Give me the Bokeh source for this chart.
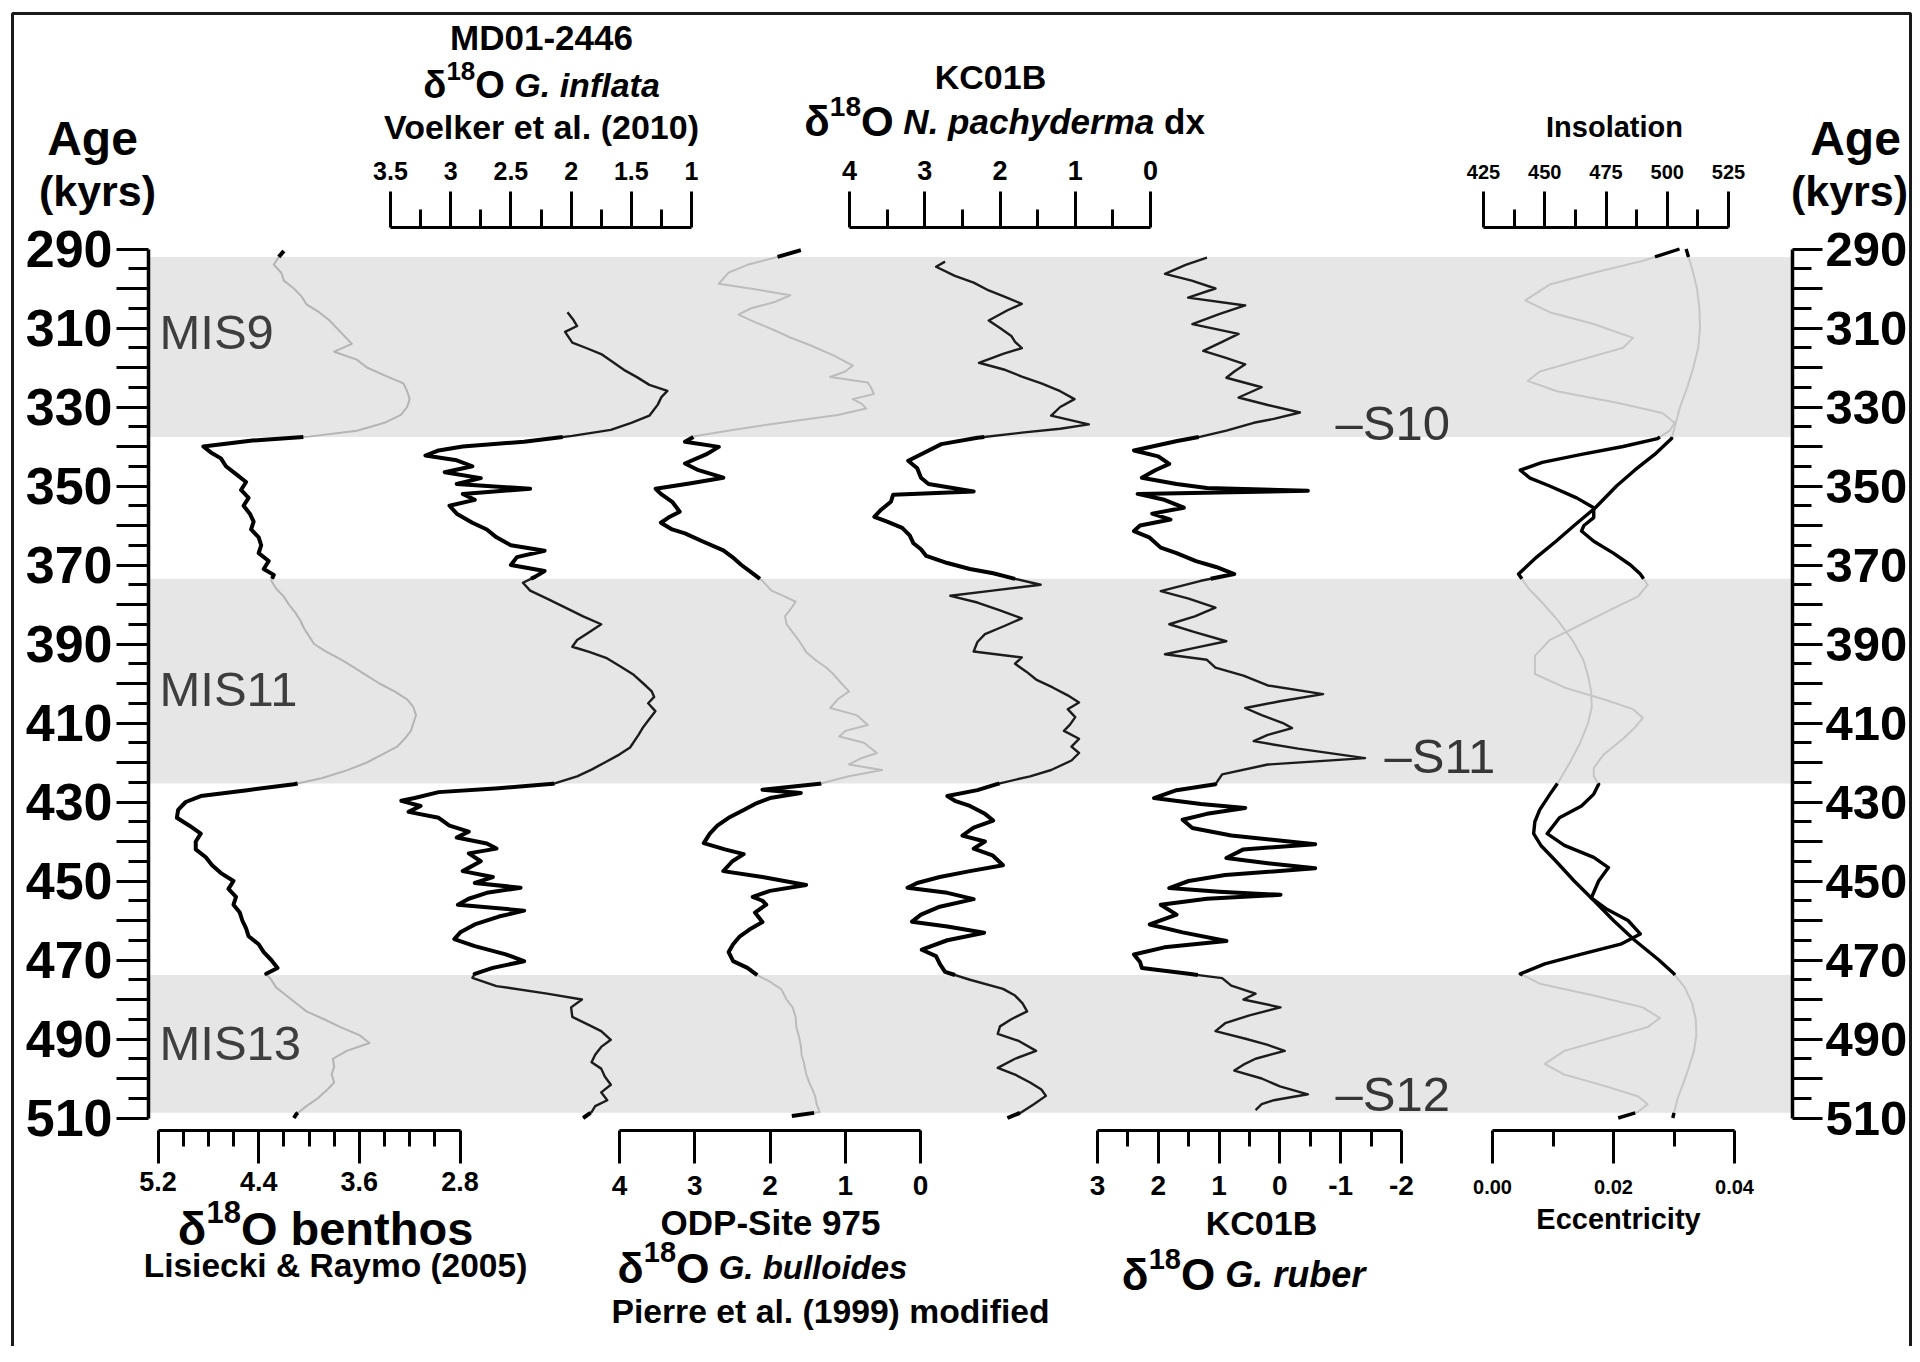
import numpy as np
from bokeh.plotting import figure
from bokeh.models import Range1d, LinearAxis, FixedTicker, Label, CustomJSTickFormatter
from bokeh.embed import file_html
from bokeh.resources import INLINE

# ---------------- data ----------------
mis_names = ["MIS9", "MIS11", "MIS13"]
mis_start = [292.0, 373.5, 473.8]
mis_end = [337.6, 425.3, 508.7]
mis_label_age = [311.0, 401.5, 491.0]

s_names = ["–S10", "–S11", "–S12"]
s_age = [334.0, 418.3, 504.0]

ben_age = [290.5, 292, 294, 296, 298, 300, 302, 304, 306, 308,
           310, 312, 314, 316, 318, 320, 322, 324, 326, 328,
           330, 332, 334, 336, 337.5, 338.5, 340, 341.5, 343, 345,
           347, 349, 351, 353, 355, 357, 359, 361, 363, 365,
           367, 369, 371, 372.5, 374, 376, 378, 380, 382, 384,
           386, 388, 390, 392, 394, 396, 398, 400, 402, 404,
           406, 408, 410, 412, 414, 416, 418, 420, 422, 424,
           425.5, 427, 428.5, 430, 432, 434, 436, 438, 440, 442,
           444, 446, 448, 450, 452, 454, 456, 458, 460, 462,
           464, 466, 468, 470, 472, 473.5, 475, 477, 479, 481,
           483, 485, 487, 489, 491, 493, 495, 497, 499, 501,
           503, 505, 507, 509, 510]
ben_val = [4.20, 4.24, 4.28, 4.22, 4.20, 4.12, 4.06, 4.02, 3.92, 3.84,
           3.78, 3.72, 3.66, 3.80, 3.62, 3.54, 3.40, 3.25, 3.22, 3.20,
           3.22, 3.27, 3.40, 3.62, 4.00, 4.45, 4.84, 4.78, 4.70, 4.66,
           4.58, 4.50, 4.54, 4.48, 4.52, 4.47, 4.44, 4.46, 4.40, 4.38,
           4.40, 4.32, 4.36, 4.28, 4.30, 4.26, 4.20, 4.16, 4.11, 4.07,
           4.04, 4.00, 3.96, 3.86, 3.74, 3.64, 3.54, 3.44, 3.32, 3.22,
           3.17, 3.15, 3.17, 3.19, 3.24, 3.30, 3.42, 3.54, 3.70, 3.90,
           4.12, 4.49, 4.86, 4.98, 5.04, 5.05, 4.95, 4.86, 4.90, 4.90,
           4.82, 4.77, 4.70, 4.60, 4.64, 4.58, 4.60, 4.55, 4.53, 4.50,
           4.48, 4.40, 4.36, 4.30, 4.25, 4.34, 4.30, 4.26, 4.18, 4.10,
           4.02, 3.88, 3.75, 3.60, 3.52, 3.70, 3.81, 3.80, 3.82, 3.80,
           3.86, 3.93, 4.02, 4.10, 4.12]

inf_age = [306, 308, 309.5, 311, 313.7, 315, 316.6, 318.5, 320.8, 322.5,
           324.4, 325.9, 327.5, 329.4, 331, 332.2, 334, 335.8, 337.3, 338.8,
           340, 341, 342.3, 343.5, 345, 346.5, 348, 349.5, 350.7, 352,
           353.5, 355, 357, 359.3, 361, 363, 365, 366.4, 368, 370,
           371.5, 373, 374.5, 376.5, 378.5, 380.6, 383, 385, 387, 389,
           390.7, 392, 393.5, 395.5, 397.8, 400, 402, 403.4, 405, 407,
           409, 411, 413, 416.2, 418, 420, 421.8, 423.5, 425.4, 426.5,
           427.5, 429, 429.7, 431, 432.5, 434, 436, 437.5, 439, 440.5,
           441.8, 443, 445, 447.5, 449, 450.5, 451.7, 453, 454.5, 456,
           457.5, 459, 461, 463, 464.7, 466.5, 468.5, 470.3, 472, 473.5,
           474.5, 476.6, 478.5, 480, 482, 484.4, 486.5, 488, 490.2, 492,
           494, 495.9, 497.5, 499.5, 501.6, 503.5, 505.5, 507, 508.5, 510]
inf_val = [2.03, 1.98, 1.95, 2.05, 1.99, 1.88, 1.75, 1.66, 1.55, 1.45,
           1.35, 1.20, 1.25, 1.28, 1.32, 1.35, 1.50, 1.67, 1.99, 2.39,
           2.90, 3.10, 3.21, 2.95, 2.82, 3.05, 2.75, 2.95, 2.34, 2.90,
           2.80, 3.01, 2.95, 2.82, 2.70, 2.62, 2.50, 2.22, 2.45, 2.50,
           2.22, 2.30, 2.40, 2.34, 2.20, 2.06, 1.90, 1.75, 1.85, 1.95,
           1.99, 1.85, 1.71, 1.60, 1.48, 1.40, 1.33, 1.31, 1.36, 1.30,
           1.35, 1.40, 1.44, 1.51, 1.60, 1.72, 1.83, 1.95, 2.15, 2.60,
           3.10, 3.30, 3.41, 3.25, 3.35, 3.10, 3.01, 2.85, 2.95, 2.70,
           2.62, 2.85, 2.75, 2.90, 2.65, 2.80, 2.42, 2.70, 2.85, 2.94,
           2.39, 2.60, 2.80, 2.92, 2.97, 2.80, 2.55, 2.39, 2.65, 2.80,
           2.82, 2.62, 2.20, 1.91, 2.00, 1.99, 1.85, 1.75, 1.67, 1.75,
           1.80, 1.83, 1.75, 1.72, 1.67, 1.75, 1.70, 1.80, 1.83, 1.90]

bul_age = [290.3, 292, 294, 296, 298.8, 300.2, 301.7, 303.5, 305, 306.6,
           308.5, 310.5, 312.4, 314.5, 317, 319.5, 321, 322.4, 323.1, 323.8,
           325, 326.7, 328, 329.2, 330.4, 332, 334, 335.8, 337.4, 338.8,
           340.1, 342, 344.3, 346, 347.9, 349.3, 350.7, 352, 354, 356.5,
           358, 359.3, 361, 362, 364, 366.3, 368, 370, 372.1, 374,
           376.5, 378, 379.3, 381, 383, 385, 387, 389, 392, 394,
           396, 397.8, 400, 402, 404, 406.2, 408, 410.5, 412, 413.4,
           415, 417.6, 419, 420.5, 421.9, 423.5, 425.4, 426.9, 427.7, 429,
           430.5, 432, 434, 436, 438, 440.4, 442, 443.2, 445, 447.5,
           449, 451, 452.5, 454, 455, 456, 458, 460.4, 462, 464,
           466, 468, 470.3, 472, 473.8, 475.5, 477.4, 480, 482, 484.4,
           487, 489, 491.7, 494, 496, 498.8, 501, 503, 504.5, 506.5,
           508.5, 509.5]
bul_val = [1.59, 1.90, 2.30, 2.55, 2.68, 2.20, 1.73, 1.95, 2.25, 2.42,
           2.20, 1.95, 1.73, 1.45, 1.15, 0.90, 1.00, 1.20, 0.95, 0.70,
           0.66, 0.62, 0.90, 0.78, 0.72, 1.10, 1.85, 2.50, 3.00, 3.13,
           2.68, 2.85, 3.13, 2.95, 2.62, 3.05, 3.52, 3.45, 3.30, 3.20,
           3.35, 3.45, 3.30, 3.13, 2.90, 2.62, 2.50, 2.38, 2.23, 2.10,
           1.98, 1.80, 1.66, 1.72, 1.80, 1.78, 1.70, 1.62, 1.52, 1.40,
           1.25, 1.15, 1.05, 0.95, 1.10, 1.20, 0.85, 0.70, 1.00, 1.08,
           0.75, 0.58, 0.80, 0.95, 0.51, 0.95, 1.34, 2.10, 1.59, 2.00,
           2.20, 2.35, 2.55, 2.70, 2.80, 2.88, 2.60, 2.35, 2.50, 2.62,
           2.10, 1.52, 2.00, 2.23, 2.10, 2.05, 2.20, 2.10, 2.25, 2.40,
           2.49, 2.55, 2.49, 2.30, 2.17, 2.00, 1.85, 1.78, 1.70, 1.66,
           1.65, 1.62, 1.59, 1.58, 1.55, 1.52, 1.48, 1.43, 1.40, 1.38,
           1.34, 1.71]

pac_age = [293.2, 294.5, 296.8, 298.5, 300.5, 302, 303.9, 305.5, 308.1, 310,
           312, 313.5, 315.1, 316.5, 318.8, 320.5, 322.3, 324, 326, 328,
           330, 332.2, 334.4, 335.5, 336.5, 337.8, 339.4, 341.5, 343.6, 345.5,
           347.9, 349.5, 351.4, 352.2, 354, 356, 357.8, 359, 360.6, 362.5,
           364.5, 366, 367.7, 369.5, 371, 372.1, 373.5, 375, 376.5, 377.8,
           379.5, 381.5, 383.5, 385.5, 387.5, 389.5, 391.9, 393.4, 395, 397,
           399, 401, 403, 404.8, 406.5, 408.5, 410.4, 412, 414, 416,
           417.6, 419.5, 421.9, 423.5, 425.4, 427, 428.5, 429.7, 431, 433,
           434.7, 436.5, 438.5, 440, 441.8, 443.5, 446, 447.5, 449, 450.5,
           451.7, 453, 454.6, 456.5, 458.5, 460.3, 461.5, 463.1, 465, 467.4,
           469, 471, 473, 475, 477.3, 479, 481, 483, 485, 486.8,
           488.7, 490.5, 493, 495, 497.3, 499, 501, 502.8, 504.4, 506.5,
           508.5, 510]
pac_val = [2.73, 2.85, 2.60, 2.35, 2.15, 1.95, 1.71, 1.90, 2.15, 2.00,
           1.85, 1.80, 1.71, 1.95, 2.28, 1.95, 1.71, 1.45, 1.20, 1.01,
           1.20, 1.32, 0.82, 1.20, 1.71, 2.30, 2.78, 3.00, 3.22, 3.10,
           3.05, 2.95, 2.35, 3.42, 3.45, 3.58, 3.67, 3.50, 3.30, 3.20,
           3.15, 3.05, 2.98, 2.70, 2.40, 2.09, 1.80, 1.46, 2.10, 2.66,
           2.30, 2.00, 1.71, 1.95, 2.20, 2.30, 2.35, 1.71, 1.80, 1.65,
           1.52, 1.30, 1.10, 0.95, 1.10, 1.00, 1.07, 1.15, 0.95, 1.05,
           0.95, 1.05, 1.32, 1.60, 2.03, 2.30, 2.70, 2.60, 2.40, 2.20,
           2.09, 2.35, 2.50, 2.20, 2.35, 2.10, 1.96, 2.40, 2.80, 3.10,
           3.23, 2.70, 2.35, 2.80, 3.05, 3.17, 2.70, 2.21, 2.70, 3.04,
           2.85, 2.80, 2.73, 2.40, 1.96, 1.80, 1.70, 1.64, 1.85, 2.00,
           2.03, 1.75, 1.52, 1.80, 2.03, 1.80, 1.60, 1.45, 1.39, 1.55,
           1.71, 1.90]

rub_age = [292.2, 294, 296.3, 298, 300, 302.3, 304.3, 306.5, 309, 311.5,
           313.5, 315.8, 317.5, 319.2, 321, 322.6, 325, 327.6, 329.5, 331.4,
           333, 334, 336, 337.5, 338.6, 340, 341, 342.5, 344.4, 346,
           347.9, 349.5, 350.5, 351.2, 352, 353.5, 355.5, 357, 358.5, 360,
           361.4, 363, 365.6, 367, 369, 370.5, 372.3, 374, 376.6, 378.5,
           380.8, 383, 385, 387, 389.3, 391, 392.6, 394, 396, 398,
           400.5, 402.7, 404.5, 406.2, 408, 410, 411.3, 413, 414.6, 416.5,
           418.9, 420.5, 423, 425.5, 427, 429, 430.5, 431.5, 433, 434.5,
           436.6, 438.5, 440.7, 442, 444.2, 445.5, 446.8, 448.5, 450, 451.8,
           452.7, 453.5, 454.5, 456, 458.5, 461, 463, 465.2, 466.8, 468.6,
           470.5, 472, 473.5, 474.6, 476.5, 478.5, 480, 482, 484, 486,
           488, 490, 491.5, 493, 495, 496.5, 498, 500, 502, 504,
           505.5, 506.5, 508]
rub_val = [1.20, 1.55, 1.89, 1.45, 1.06, 1.51, 0.57, 1.00, 1.44, 0.68,
           0.95, 1.26, 0.90, 0.57, 0.75, 0.88, 0.30, 0.68, 0.20, -0.33,
           0.10, 0.43, 0.88, 1.30, 1.69, 2.10, 2.40, 2.00, 1.82, 2.05,
           2.27, 1.70, 1.20, -0.46, 2.34, 1.90, 1.58, 2.10, 1.80, 2.30,
           2.40, 2.15, 1.96, 1.70, 1.38, 1.05, 0.75, 1.30, 1.96, 1.50,
           1.06, 1.40, 1.82, 1.40, 0.88, 1.40, 1.89, 1.20, 1.06, 0.60,
           0.20, -0.71, 0.00, 0.57, 0.30, -0.05, -0.20, 0.20, 0.43, -0.30,
           -1.40, 0.20, 0.95, 1.06, 1.70, 2.07, 1.30, 0.57, 1.20, 1.60,
           1.44, 0.80, -0.58, 0.60, 0.88, 0.20, -0.58, 0.90, 1.50, 1.82,
           1.00, -0.01, 1.20, 1.96, 1.70, 2.14, 1.60, 0.88, 1.90, 2.40,
           2.30, 2.27, 1.50, 0.95, 0.80, 0.40, 0.60, -0.01, 0.50, 0.90,
           1.06, 0.55, 0.20, -0.08, 0.40, 0.60, 0.75, 0.30, 0.00, -0.46,
           0.10, 0.30, 0.40]

ins_age = [290, 293, 296, 299, 303, 306, 309, 312.5, 315, 318,
           321, 323.4, 326, 329, 331.5, 334, 336, 338, 340, 342,
           344, 346, 348, 350, 353, 355.5, 358, 360, 361.4, 364,
           367, 370, 372.3, 375, 378, 381, 385, 389, 393, 397.6,
           401, 404, 406.5, 408.7, 411, 414, 418, 421.4, 423.5, 425.5,
           428, 431, 434, 438, 441, 444, 446.6, 450, 454.3, 457,
           460, 463.4, 466, 468.5, 471, 473.5, 476, 479, 482, 484.7,
           487, 490, 493, 496.3, 499, 502, 504.5, 506.5, 508.5, 510]
ins_val = [505, 490, 470, 452, 442, 452, 470, 486, 482, 465,
           448, 443, 455, 480, 498, 503, 501, 496, 482, 465,
           449, 440, 444, 452, 463, 470, 470, 466, 465, 470,
           478, 485, 489, 492, 488, 478, 465, 452, 446, 446,
           458, 474, 486, 490, 487, 482, 474, 470, 470, 472,
           470, 465, 456, 451, 458, 470, 476, 472, 469, 475,
           484, 489, 481, 465, 450, 440, 448, 470, 490, 497,
           492, 475, 458, 450, 458, 475, 488, 492, 488, 480]

ecc_age = [290, 295, 300, 305, 310, 315, 320, 325, 330, 334,
           338, 342, 346, 350, 355.5, 360, 364, 368, 372.3, 376,
           380, 384, 389, 394, 398, 402, 406, 410, 415, 420,
           424.7, 428, 432, 435, 438, 441, 445, 450, 455, 460,
           465, 470, 473.5, 477, 481, 485, 489, 493, 497, 501,
           505, 510]
ecc_val = [0.0320, 0.0330, 0.0338, 0.0342, 0.0343, 0.0340, 0.0332, 0.0322, 0.0310, 0.0303,
           0.0296, 0.0268, 0.0235, 0.0205, 0.0170, 0.0135, 0.0105, 0.0073, 0.0043, 0.0060,
           0.0085, 0.0108, 0.0132, 0.0150, 0.0158, 0.0163, 0.0164, 0.0158, 0.0145, 0.0128,
           0.0110, 0.0095, 0.0078, 0.0070, 0.0068, 0.0080, 0.0105, 0.0135, 0.0168, 0.0200,
           0.0235, 0.0275, 0.0300, 0.0318, 0.0330, 0.0336, 0.0337, 0.0333, 0.0325, 0.0316,
           0.0306, 0.0298]

# ---------------- layout constants (page pixels) ----------------
W, H = 1912, 1346
PX0, PX1 = 0, W             # page x at canvas left/right
PY0, PY1 = 0, H             # page y at canvas top/bottom
Y290, PPK = 248.5, 3.95     # page y of 290 kyr, pixels per kyr


def age_at(py):
    return 290 + (py - Y290) / PPK


AX_L, AX_R = 148, 1792
TOP_LOC = age_at(227)
BOT_LOC = age_at(1130)


def rng(v1, x1, v2, x2):
    s = (v2 - v1) / (x2 - x1)
    return Range1d(v1 + (PX0 - x1) * s, v1 + (PX1 - x1) * s)


p = figure(width=W, height=H, output_backend="svg", toolbar_location=None,
           x_range=Range1d(PX0, PX1), y_range=Range1d(age_at(PY1), age_at(PY0)),
           x_axis_location=None, y_axis_location=None, min_border=0,
           outline_line_color=None, title=None)
p.grid.visible = False
p.background_fill_color = "white"
p.border_fill_color = "white"

p.extra_x_ranges = {
    "ben": rng(5.2, 157.5, 2.8, 459.5),
    "inf": rng(3.5, 390, 1.0, 691),
    "bul": rng(4.0, 619, 0.0, 920),
    "pac": rng(4.0, 849, 0.0, 1150),
    "rub": rng(3.0, 1097, -2.0, 1401),
    "ins": rng(425, 1483, 525, 1728),
    "ecc": rng(0.0, 1492, 0.04, 1734),
}
p.extra_y_ranges = {"page": Range1d(PY1, PY0)}

# outer frame
p.quad(left=12, right=1910, top=13, bottom=1420, y_range_name="page",
       fill_color=None, line_color="#1a1a1a", line_width=3)

# MIS bands
p.quad(left=AX_L, right=AX_R, top=mis_start, bottom=mis_end,
       fill_color="#e6e6e6", line_color=None)

white_iv = [(290.0, mis_start[0]), (mis_end[0], mis_start[1]),
            (mis_end[1], mis_start[2]), (mis_end[2], 510.0)]


def draw(age, val, rname, band_color, band_w, black_w=4.0):
    a = np.asarray(age, float)
    v = np.asarray(val, float)
    p.line(v, a, x_range_name=rname, line_color=band_color, line_width=band_w,
           line_join="round")
    xs, ys = [], []
    for lo, hi in white_iv:
        lo2, hi2 = max(lo, a.min()), min(hi, a.max())
        if hi2 <= lo2:
            continue
        m = (a > lo2) & (a < hi2)
        yy = np.concatenate([[lo2], a[m], [hi2]])
        xx = np.concatenate([[np.interp(lo2, a, v)], v[m], [np.interp(hi2, a, v)]])
        xs.append(list(xx))
        ys.append(list(yy))
    p.multi_line(xs, ys, x_range_name=rname, line_color="black",
                 line_width=black_w, line_join="round")


draw(ben_age, ben_val, "ben", "#b4b4b4", 2.0)
draw(inf_age, inf_val, "inf", "#1c1c1c", 2.4)
draw(bul_age, bul_val, "bul", "#bcbcbc", 2.0)
draw(pac_age, pac_val, "pac", "#1c1c1c", 2.4)
draw(rub_age, rub_val, "rub", "#1c1c1c", 2.4)
draw(ins_age, ins_val, "ins", "#c6c6c6", 2.0, 3.4)
draw(ecc_age, ecc_val, "ecc", "#c6c6c6", 2.0, 3.4)

FONT = "Liberation Sans"


def fmt(vals, labs):
    return CustomJSTickFormatter(args=dict(vals=list(vals), labs=list(labs)), code="""
for (let i = 0; i < vals.length; i++) {
  if (Math.abs(vals[i] - tick) < 1e-7) { return labs[i]; }
}
return "";
""")


def axis(side, rname, ticks, minor, labels, loc, bounds, fsize, tout, mout, standoff, lw=3):
    kw = {"x_range_name": rname} if side in ("above", "below") else {"y_range_name": rname}
    ax = LinearAxis(fixed_location=loc, bounds=bounds,
                    ticker=FixedTicker(ticks=list(ticks), minor_ticks=list(minor)),
                    formatter=fmt(ticks, labels), **kw)
    ax.axis_line_width = lw
    ax.axis_line_color = "black"
    ax.major_tick_line_width = 3
    ax.minor_tick_line_width = 3
    ax.major_tick_in = 0
    ax.minor_tick_in = 0
    ax.major_tick_out = tout
    ax.minor_tick_out = mout
    ax.major_label_text_font = FONT
    ax.major_label_text_font_style = "bold"
    ax.major_label_text_font_size = f"{fsize}px"
    ax.major_label_text_color = "black"
    ax.major_label_standoff = standoff
    p.add_layout(ax, side)


age_major = list(range(290, 511, 10))
age_minor = list(range(295, 510, 10))
age_labels = [str(t) if (t - 290) % 20 == 0 else "" for t in age_major]
axis("left", "default", age_major, age_minor, age_labels, AX_L, (290, 510), 52, 32, 20, 4, 3.5)
axis("right", "default", age_major, age_minor, age_labels, AX_R, (290, 510), 49, 30, 19, 3, 3.5)

# top axes
axis("above", "inf", [1, 1.5, 2, 2.5, 3, 3.5], [1.25, 1.75, 2.25, 2.75, 3.25],
     ["1", "1.5", "2", "2.5", "3", "3.5"], TOP_LOC, (1, 3.5), 25, 36, 18, 12)
axis("above", "pac", [0, 1, 2, 3, 4], [0.5, 1.5, 2.5, 3.5],
     ["0", "1", "2", "3", "4"], TOP_LOC, (0, 4), 27, 36, 18, 12)
axis("above", "ins", [425, 450, 475, 500, 525], [437.5, 462.5, 487.5, 512.5],
     ["425", "450", "475", "500", "525"], TOP_LOC, (425, 525), 20, 36, 18, 13)

# bottom axes
axis("below", "ben", [2.8, 3.6, 4.4, 5.2], [3.0, 3.2, 3.4, 3.8, 4.0, 4.2, 4.6, 4.8, 5.0],
     ["2.8", "3.6", "4.4", "5.2"], BOT_LOC, (2.8, 5.2), 27, 33, 16, 8)
axis("below", "bul", [0, 1, 2, 3, 4], [],
     ["0", "1", "2", "3", "4"], BOT_LOC, (0, 4), 28, 33, 16, 12)
axis("below", "rub", [-2, -1, 0, 1, 2, 3], [-1.5, -0.5, 0.5, 1.5, 2.5],
     ["-2", "-1", "0", "1", "2", "3"], BOT_LOC, (-2, 3), 28, 33, 16, 12)
axis("below", "ecc", [0.0, 0.02, 0.04], [0.01, 0.03],
     ["0.00", "0.02", "0.04"], BOT_LOC, (0.0, 0.04), 20, 33, 16, 16)

# ---------------- texts ----------------
CW = {' ': 278, '.': 278, '-': 333, '(': 333, ')': 333, '&': 722,
      'A': 722, 'B': 722, 'C': 722, 'D': 722, 'E': 667, 'G': 778, 'I': 278, 'K': 722,
      'L': 611, 'M': 833, 'N': 722, 'O': 778, 'P': 667, 'R': 722, 'S': 667, 'V': 667,
      'a': 556, 'b': 611, 'c': 556, 'd': 611, 'e': 556, 'f': 333, 'g': 611, 'h': 611,
      'i': 278, 'k': 556, 'l': 278, 'm': 889, 'n': 611, 'o': 611, 'p': 611, 'r': 389,
      's': 556, 't': 333, 'u': 611, 'x': 556, 'y': 556, 'δ': 611}


def tw(s, size):
    return sum(CW.get(c, 556) for c in s) * size / 1000.0


def text(x, y, s, size, style="bold", align="center", base="middle", color="black", yr="page"):
    p.add_layout(Label(x=x, y=y, y_range_name=yr, text=s, text_font=FONT,
                       text_font_size=f"{size}px", text_font_style=style,
                       text_color=color, text_align=align, text_baseline=base))


def runs(cx, base_y, items):
    # items: (text, size, style, raise) ; text None => gap of a space
    total = 0
    for t, s, st, r in items:
        total += tw(" ", s) if t is None else tw(t, s)
    x = cx - total / 2
    for t, s, st, r in items:
        if t is None:
            x += tw(" ", s)
            continue
        text(x, base_y - r, t, s, st, align="left", base="alphabetic")
        x += tw(t, s)


def d18o(cx, base_y, big, sup, rest):
    items = [("δ", big, "bold", 0), ("18", sup, "bold", big * 0.36), ("O", big, "bold", 0)]
    for t, s, st in rest:
        items.append((None, s, st, 0))
        items.append((t, s, st, 0))
    runs(cx, base_y, items)


# top-left group
text(541, 37, "MD01-2446", 35)
d18o(541, 84, 38, 26, [("G. inflata", 34, "bold italic")])
text(541, 126, "Voelker et al. (2010)", 34)
# top-middle group
text(990, 76, "KC01B", 34)
d18o(1004, 121, 42, 28, [("N. pachyderma", 35, "bold italic"), ("dx", 35, "bold")])
# insolation
text(1614, 126, "Insolation", 29)
# age titles
text(92, 138, "Age", 48)
text(97, 190, "(kyrs)", 43)
text(1855, 138, "Age", 48)
text(1849, 190, "(kyrs)", 43)

# bottom groups
d18o(325, 1228, 47, 31, [("benthos", 47, "bold")])
text(335, 1265, "Lisiecki & Raymo (2005)", 33.5)
text(770, 1222, "ODP-Site 975", 35)
d18o(762, 1267, 43, 29, [("G. bulloides", 33, "bold italic")])
text(830, 1310, "Pierre et al. (1999) modified", 33.7)
text(1261, 1222, "KC01B", 34)
d18o(1243, 1274, 44, 29, [("G. ruber", 36, "bold italic")])
text(1618, 1218, "Eccentricity", 29)

# MIS labels and S labels (ages on the age axis)
for name, a in zip(mis_names, mis_label_age):
    text(159, a, name, 49, style="normal", align="left", base="middle",
         color="#3e3e3e", yr="default")
for name, a, x in zip(s_names, s_age, [1335, 1384, 1335]):
    text(x, a, name, 49, style="normal", align="left", base="middle",
         color="#363636", yr="default")

open("out.html", "w").write(file_html(p, INLINE))
